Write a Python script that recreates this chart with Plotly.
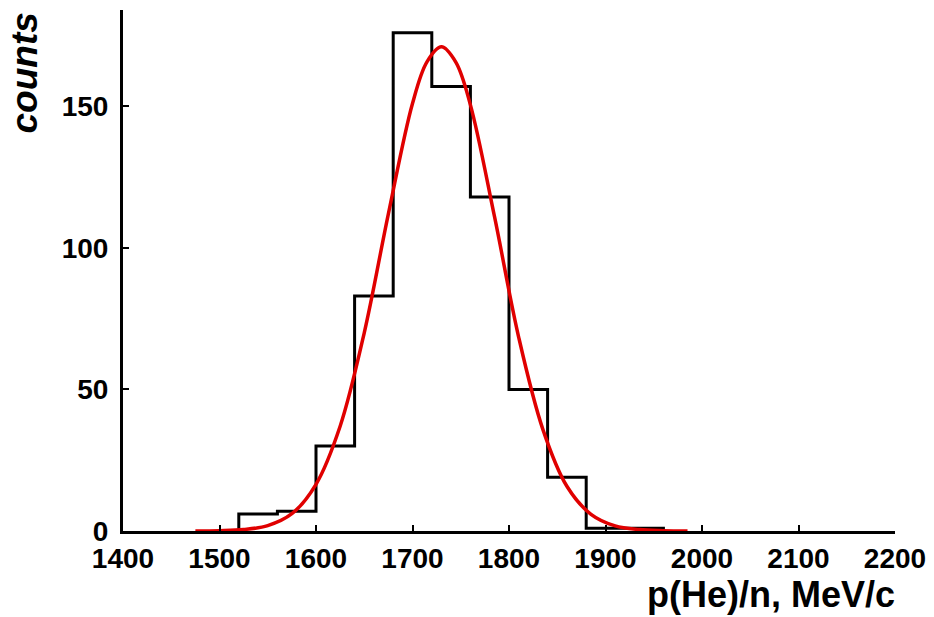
import plotly.graph_objects as go

# Histogram bin edges (MeV/c) and counts per bin
bin_edges = [1520, 1560, 1600, 1640, 1680, 1720, 1760, 1800, 1840, 1880, 1920, 1960]
bin_counts = [6, 7, 30, 83, 176, 157, 118, 50, 19, 1, 1]

# Points
fit_x = [1475, 1500, 1525, 1550, 1575, 1600, 1625, 1650, 1675, 1700, 1715, 1730,
         1745, 1760, 1785, 1810, 1835, 1860, 1885, 1910, 1935, 1960, 1985]
fit_y = [0.0, 0.1, 0.5, 1.9, 6.1, 16.5, 37, 70, 112, 151, 165.7, 171,
         165.5, 150.5, 111, 68.5, 36, 15.8, 5.9, 1.8, 0.5, 0.1, 0.0]

x_ticks = [1400, 1500, 1600, 1700, 1800, 1900, 2000, 2100, 2200]
y_ticks = [0, 50, 100, 150]

# Step outline of histogram
hx = [bin_edges[0]] + bin_edges
hy = [0] + bin_counts + [0]

fig = go.Figure()
fig.add_trace(go.Scatter(x=hx, y=hy, mode="lines", line=dict(shape="hv", color="black", width=3),
                         showlegend=False, hoverinfo="skip"))
fig.add_trace(go.Scatter(x=fit_x, y=fit_y, mode="lines", line=dict(shape="spline", color="#e00000", width=3.5),
                         showlegend=False))

tickfont = dict(family="Liberation Sans, Arial, sans-serif", size=28, color="black", weight="bold")

fig.update_layout(
    width=934, height=617,
    margin=dict(l=123, r=39, t=10, b=86),
    paper_bgcolor="white", plot_bgcolor="white",
    xaxis=dict(range=[1400, 2200], tickvals=x_ticks, ticktext=[str(v) for v in x_ticks],
               showline=True, linecolor="black", linewidth=3, ticks="inside", ticklen=6, tickwidth=2,
               tickcolor="black", showgrid=False, zeroline=False, tickfont=tickfont,
               ticklabelstandoff=0, automargin=False),
    yaxis=dict(range=[0, 184], tickvals=y_ticks, ticktext=[str(v) for v in y_ticks],
               showline=True, linecolor="black", linewidth=3, ticks="inside", ticklen=6, tickwidth=2,
               tickcolor="black", showgrid=False, zeroline=False, tickfont=tickfont,
               ticklabelstandoff=6, automargin=False),
    annotations=[
        dict(text="<b><i>counts</i></b>", textangle=-90, xref="paper", yref="paper",
             x=-0.127, y=1.0, xanchor="center", yanchor="top", showarrow=False,
             font=dict(family="Liberation Sans, Arial, sans-serif", size=37, color="black")),
        dict(text="<b>p(He)/n, MeV/c</b>", xref="paper", yref="paper",
             x=1.003, y=-0.165, xanchor="right", yanchor="bottom", showarrow=False,
             font=dict(family="Liberation Sans, Arial, sans-serif", size=36, color="black")),
    ],
)

fig.write_html("out.html")
